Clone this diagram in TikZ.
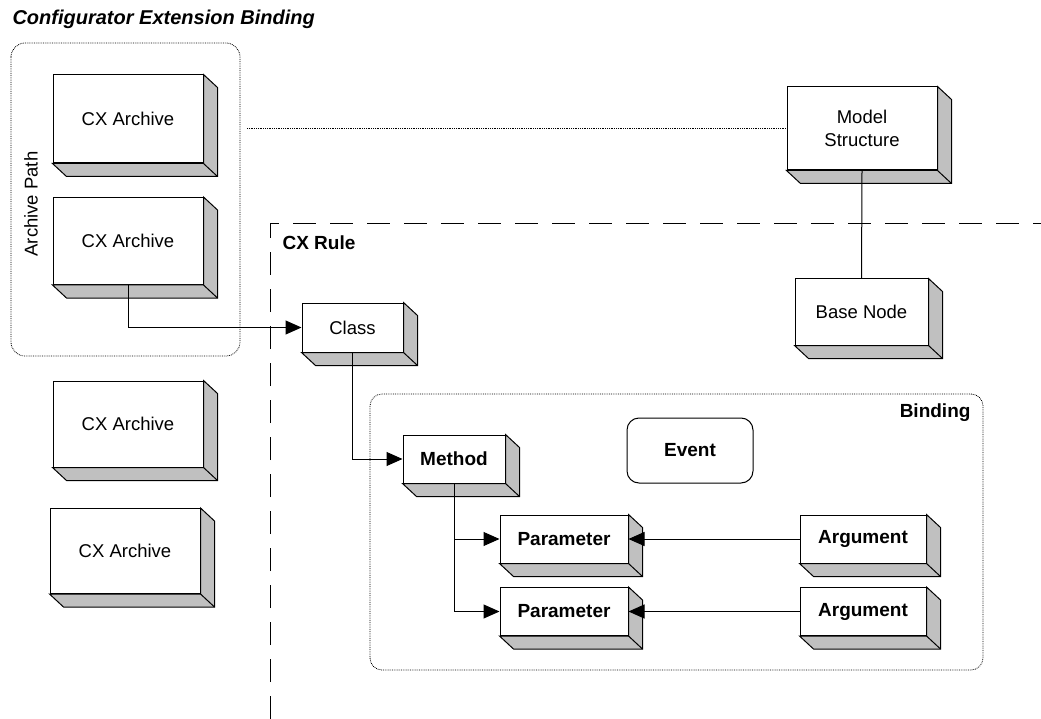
\documentclass[tikz,border=0pt]{standalone}
\usepackage{fontspec}
\setmainfont{Liberation Sans}
\usetikzlibrary{arrows.meta,calc}

\definecolor{boxgray}{RGB}{192,192,192}

\tikzset{
  cube/.style={draw, fill=white, line width=1pt, inner sep=0pt, font=\fontsize{18.5}{23}\selectfont, align=center},
  boldcube/.style={cube, font=\fontsize{19}{23}\selectfont\bfseries},
  depth/.style={fill=boxgray, draw, line width=1pt},
  group/.style={densely dotted, line width=0.8pt, rounded corners=14pt},
  arr/.style={line width=1pt, -{Triangle[length=16pt,width=14pt]}},
  line/.style={line width=1pt},
  label/.style={font=\fontsize{19}{23}\selectfont\bfseries}
}

% bottom and right face of a box
\newcommand{\boxdepth}[1]{
  \draw[depth] (#1.north east) -- ++(14,13) -- ($(#1.south east)+(14,13)$)
    -- ($(#1.south west)+(14,13)$) -- (#1.south west) -- (#1.south east) -- cycle;
  \draw[line width=1pt] (#1.south east) -- ++(14,13);
}

\begin{document}
\begin{tikzpicture}[x=1pt,y=-1pt]
  \useasboundingbox (0,0) rectangle (1041,719);

  \node[anchor=west, font=\fontsize{20}{24}\selectfont\bfseries\itshape] (title) at (9,19) {Configurator Extension Binding};

  % containers
  \draw[group] (11,43) rectangle (240,356);
  \node[rotate=90, font=\fontsize{18.5}{23}\selectfont] (pathlbl) at (31,204) {Archive Path};
  \draw[group, rounded corners=12pt] (370,394) rectangle (983,670);
  \node[label, anchor=east] (bindlbl) at (974,413) {Binding};
  \draw[line width=1pt, dash pattern=on 23pt off 14pt] (270,719) -- (270,224) -- (1041,224);
  \node[label, anchor=west] (rulelbl) at (279,243) {CX Rule};

  % archives
  \node[cube, minimum width=150, minimum height=88] (arch1) at (128,119) {CX Archive};
  \node[cube, minimum width=150, minimum height=87] (arch2) at (128,241) {CX Archive};
  \node[cube, minimum width=150, minimum height=86] (arch3) at (128,424) {CX Archive};
  \node[cube, minimum width=150, minimum height=85] (arch4) at (125,551) {CX Archive};
  \boxdepth{arch1}
  \boxdepth{arch2}
  \boxdepth{arch3}
  \boxdepth{arch4}

  % model
  \node[cube, minimum width=150, minimum height=83] (model) at (862,128.5) {Model\\Structure};
  \node[cube, minimum width=133, minimum height=66] (base) at (861.5,312) {Base Node};
  \boxdepth{model}
  \boxdepth{base}

  % rule
  \node[cube, minimum width=101, minimum height=49] (class) at (352.5,327.5) {Class};
  \node[boldcube, minimum width=102, minimum height=48] (method) at (454,459) {Method};
  \node[boldcube, minimum width=128, minimum height=48] (param1) at (564,539) {Parameter};
  \node[boldcube, minimum width=128, minimum height=48] (param2) at (564,611.5) {Parameter};
  \node[boldcube, minimum width=126, minimum height=48] (arg1) at (863,539) {Argument};
  \node[boldcube, minimum width=126, minimum height=48] (arg2) at (863,611.5) {Argument};
  \node[boldcube, rounded corners=12pt, minimum width=126, minimum height=65] (event) at (690,450.5) {Event};
  \boxdepth{class}
  \boxdepth{method}
  \boxdepth{param1}
  \boxdepth{param2}
  \boxdepth{arg1}
  \boxdepth{arg2}

  % connectors
  \coordinate (pathend) at (247,128.5);
  \draw[densely dotted, line width=0.8pt] (pathend) -- (model.west);
  \draw[line] (model.south) -- (base.north);
  \draw[arr] (arch2.south) |- (class.west);
  \draw[arr] (class.south) |- (method.west);
  \draw[arr] (method.south) |- (param1.west);
  \draw[arr] (method.south) |- (param2.west);
  \draw[arr] (arg1.west) -- (param1.east);
  \draw[arr] (arg2.west) -- (param2.east);
\end{tikzpicture}
\end{document}
